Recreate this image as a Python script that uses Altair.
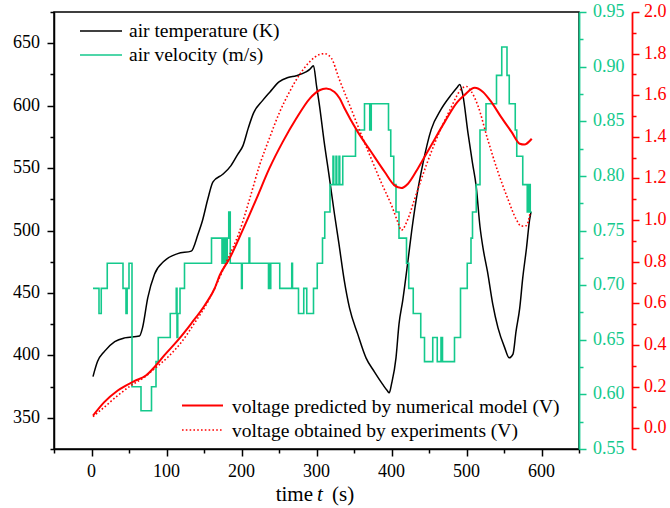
import altair as alt
import pandas as pd

# ---------------- data ----------------
temp_t = [2, 8, 17, 31, 44, 64, 68, 75, 84, 97, 115, 133, 142, 148, 155, 162,
          175, 186, 195, 202, 209, 216, 228, 238, 250, 262, 273, 286, 291, 296,
          300, 304, 310, 317, 324, 330, 337, 344, 355, 366, 377, 388, 394, 397,
          400, 406, 410, 415, 422, 427, 433, 442, 453, 466, 480, 488, 491, 495,
          502, 508, 513, 518, 522, 528, 535, 542, 551, 557, 562, 566, 571, 575,
          580, 584, 586]
temp_K = [383, 395, 403, 411, 414, 415.5, 422, 446, 465, 475.5, 481.5, 483.5, 497, 508, 525, 539,
          545, 552, 561, 568, 582, 594, 604, 611, 619, 622.5, 624, 627, 629, 632,
          616, 600, 572, 543, 513, 489, 460, 438, 417, 398, 387, 377, 372, 370,
          377, 398, 425, 444, 476, 500, 525, 554, 581, 597, 609, 615, 617, 609,
          578, 554, 535, 503, 486, 467, 441, 422, 406, 398, 401, 419, 438, 462,
          486, 508, 515]

L = {0: 0.585, 1: 0.607, 2: 0.630, 3: 0.652, 4: 0.674, 5: 0.697, 6: 0.720, 7: 0.743,
     8: 0.767, 9: 0.792, 10: 0.818, 11: 0.842, 12: 0.866, 13: 0.892, 14: 0.918}
vel_t = [2, 10, 13, 21, 42, 46, 47.5, 50, 54, 66, 80, 86, 89, 105, 113, 114, 115, 118, 124,
         160, 174, 175, 177, 178, 180, 181, 183, 185, 200, 201, 210, 211, 236, 237, 238, 239,
         251, 267, 268, 276, 283, 287, 296, 301, 308, 311, 318, 322, 323, 326, 327, 330, 331,
         335, 352, 364, 371, 373, 396, 399, 403, 406, 410, 420, 423, 429, 439, 444, 455, 461,
         466, 468, 484, 492, 501, 506, 508, 513, 518, 526, 540, 547, 554, 557, 565, 567, 575,
         581, 583, 585, 587]
vel_level = [5, 4, 5, 6, 5, 4, 5, 6, 1, 0, 1, 2, 3, 4, 5, 3, 4, 5, 6,
             7, 6, 7, 6, 7, 6, 7, 8, 6, 5, 6, 7, 6, 5, 6, 5, 6,
             5, 6, 5, 4, 5, 4, 5, 6, 7, 8, 9, 10, 9, 10, 9, 10, 9,
             10, 11, 12, 11, 12, 11, 10, 9, 8, 7, 6, 5, 4, 3, 2, 3, 2,
             3, 2, 3, 5, 6, 7, 8, 9, 11, 12, 13, 14, 13, 12, 11, 10, 9,
             8, 9, 8, 8]
vel_v = [L[k] for k in vel_level]

model_t = [2, 17, 35, 57, 73, 84, 97, 115, 133, 151, 164, 171, 184, 197, 210, 220, 237,
           255, 273, 291, 304, 313, 324, 331, 337, 355, 373, 391, 404, 413, 422, 435,
           453, 471, 488, 497, 511, 522, 533, 546, 560, 571, 577, 587]
model_V = [0.06, 0.125, 0.181, 0.226, 0.254, 0.294, 0.35, 0.422, 0.503, 0.591, 0.67, 0.735,
           0.815, 0.915, 1.02, 1.103, 1.247, 1.376, 1.488, 1.584, 1.624, 1.632, 1.616, 1.584,
           1.54, 1.424, 1.327, 1.231, 1.167, 1.154, 1.175, 1.247, 1.36, 1.472, 1.568, 1.6,
           1.636, 1.616, 1.568, 1.496, 1.424, 1.367, 1.363, 1.391]

exp_t = [2, 17, 35, 53, 71, 84, 102, 120, 137, 155, 164, 180, 197, 211, 224, 237, 251,
         264, 277, 291, 304, 311, 320, 330, 346, 360, 373, 386, 400, 409, 413, 422, 431,
         440, 453, 466, 480, 486, 493, 500, 506, 515, 528, 542, 555, 566, 573, 580, 585]
exp_V = [0.056, 0.101, 0.157, 0.206, 0.246, 0.286, 0.342, 0.414, 0.503, 0.607, 0.671,
         0.80, 0.942, 1.103, 1.263, 1.391, 1.52, 1.616, 1.697, 1.761, 1.796, 1.8, 1.777,
         1.68, 1.536, 1.408, 1.295, 1.183, 1.071, 0.985, 0.951, 1.006, 1.103, 1.199, 1.327,
         1.44, 1.545, 1.59, 1.63, 1.642, 1.62, 1.552, 1.391, 1.231, 1.103, 1.006, 0.971,
         0.974, 1.038]

# tick labels
x_ticks = [0, 100, 200, 300, 400, 500, 600]
temp_ticks = [350, 400, 450, 500, 550, 600, 650]
vel_ticks = [0.55, 0.60, 0.65, 0.70, 0.75, 0.80, 0.85, 0.90, 0.95]
volt_ticks = [0.0, 0.2, 0.4, 0.6, 0.8, 1.0, 1.2, 1.4, 1.6, 1.8, 2.0]

temp_df = pd.DataFrame({"t": temp_t, "v": temp_K})
vel_df = pd.DataFrame({"t": vel_t, "v": vel_v})
model_df = pd.DataFrame({"t": model_t, "v": model_V})
exp_df = pd.DataFrame({"t": exp_t, "v": exp_V})
one = pd.DataFrame({"a": [0]})

FONT = "Liberation Serif"
GREEN = "#14C98C"
RED = "#FF0000"
BLACK = "#000000"
TICK_FS = 18

T_SCALE = alt.Scale(domain=[325, 675], nice=False, zero=False)
G_SCALE = alt.Scale(domain=[0.55, 0.95], nice=False, zero=False)
R_SCALE = alt.Scale(domain=[-0.1, 2.0], nice=False, zero=False)
X_SCALE = alt.Scale(domain=[-50, 650], nice=False, zero=False)


def axis(orient, values, major_test, color, offset=0, dom_w=1.5):
    kw = dict(
        orient=orient, values=values, labels=False,
        tickSize={"condition": {"test": major_test, "value": 7}, "value": 4},
        domainColor=color, tickColor=color, domainWidth=dom_w, tickWidth=1.5,
        grid=False, title=None,
    )
    if offset:
        kw["offset"] = offset
    return alt.Axis(**kw)


x_enc = alt.X("t:Q", scale=X_SCALE,
              axis=axis("bottom", list(range(-50, 651, 50)), "datum.value % 100 === 0", BLACK))

temp_layer = alt.Chart(temp_df).mark_line(color=BLACK, strokeWidth=1.5, interpolate="monotone").encode(
    x=x_enc,
    y=alt.Y("v:Q", scale=T_SCALE,
            axis=axis("left", list(range(325, 676, 25)), "datum.value % 50 === 0", BLACK)),
)

g_major = "abs(datum.value*20 - round(datum.value*20)) < 0.01"
vel_layer = alt.Chart(vel_df).mark_line(color=GREEN, strokeWidth=1.6, interpolate="step-after").encode(
    x=x_enc,
    y=alt.Y("v:Q", scale=G_SCALE,
            axis=axis("right", [round(0.55 + 0.025 * i, 3) for i in range(17)], g_major, GREEN, dom_w=1.8)),
)

r_major = "abs(datum.value*5 - round(datum.value*5)) < 0.01"
model_layer = alt.Chart(model_df).mark_line(color=RED, strokeWidth=2, interpolate="monotone").encode(
    x=x_enc,
    y=alt.Y("v:Q", scale=R_SCALE,
            axis=axis("right", [round(-0.1 + 0.1 * i, 2) for i in range(22)], r_major, RED,
                      offset=53, dom_w=1.8)),
)
exp_layer = alt.Chart(exp_df).mark_line(color=RED, strokeWidth=1.6, strokeDash=[1.6, 2.2],
                                        interpolate="monotone").encode(
    x=x_enc,
    y=alt.Y("v:Q", scale=R_SCALE, axis=None),
)

TXT = dict(font=FONT, fontSize=TICK_FS, fontStyle="normal", fontWeight="normal")

# tick labels drawn as text through the same scales
x_lab = alt.Chart(pd.DataFrame({"t": x_ticks, "lab": [str(v) for v in x_ticks]})).mark_text(
    align="center", baseline="alphabetic", color=BLACK, **TXT
).encode(x=x_enc, y=alt.value(465), text="lab:N")

temp_lab = alt.Chart(pd.DataFrame({"v": temp_ticks, "lab": [str(v) for v in temp_ticks]})).mark_text(
    align="right", baseline="middle", color=BLACK, **TXT
).encode(x=alt.value(-14), y=alt.Y("v:Q", scale=T_SCALE, axis=None), text="lab:N")

vel_lab = alt.Chart(pd.DataFrame({"v": vel_ticks, "lab": [f"{v:.2f}" for v in vel_ticks]})).mark_text(
    align="left", baseline="middle", color=GREEN, **TXT
).encode(x=alt.value(539), y=alt.Y("v:Q", scale=G_SCALE, axis=None), text="lab:N")

volt_lab = alt.Chart(pd.DataFrame({"v": volt_ticks, "lab": [f"{v:.1f}" for v in volt_ticks]})).mark_text(
    align="left", baseline="middle", color=RED, **TXT
).encode(x=alt.value(590), y=alt.Y("v:Q", scale=R_SCALE, axis=None), text="lab:N")


def seg(x1, x2, y, color, dash=None, width=1.6):
    kw = {"color": color, "strokeWidth": width}
    if dash:
        kw["strokeDash"] = dash
    return alt.Chart(one).mark_rule(**kw).encode(
        x=alt.value(x1), x2=alt.value(x2), y=alt.value(y))


def label(txt, x, y, size=19.5, align="left", style="normal"):
    return alt.Chart(one).mark_text(font=FONT, fontSize=size, align=align, baseline="alphabetic",
                                    color=BLACK, fontStyle=style, fontWeight="normal").encode(
        x=alt.value(x), y=alt.value(y), text=alt.value(txt))


leg_layers = [
    seg(26, 68, 19, BLACK, width=1.5), label("air temperature (K)", 75, 25),
    seg(26, 68, 43, GREEN, width=1.6), label("air velocity (m/s)", 75, 48.5),
    seg(128, 169, 393.5, RED, width=2), label("voltage predicted by numerical model (V)", 178, 401),
    seg(128, 169, 418, RED, dash=[1.6, 2.2], width=1.6), label("voltage obtained by experiments (V)", 178, 425),
    label("time", 259, 489, size=21, align="right"),
    label("t", 266, 489, size=21, align="center", style="italic"),
    label("(s)", 278, 489, size=21, align="left"),
]

chart = alt.layer(temp_layer, vel_layer, model_layer, exp_layer,
                  x_lab, temp_lab, vel_lab, volt_lab, *leg_layers).resolve_scale(
    y="independent"
).properties(
    width=525, height=437,
    padding={"left": 54, "top": 12, "right": 91, "bottom": 59},
    autosize=alt.AutoSizeParams(type="none"),
).configure_view(stroke=BLACK, strokeWidth=1.5)

chart.save("out.html", embed_options={"renderer": "svg", "actions": False})
